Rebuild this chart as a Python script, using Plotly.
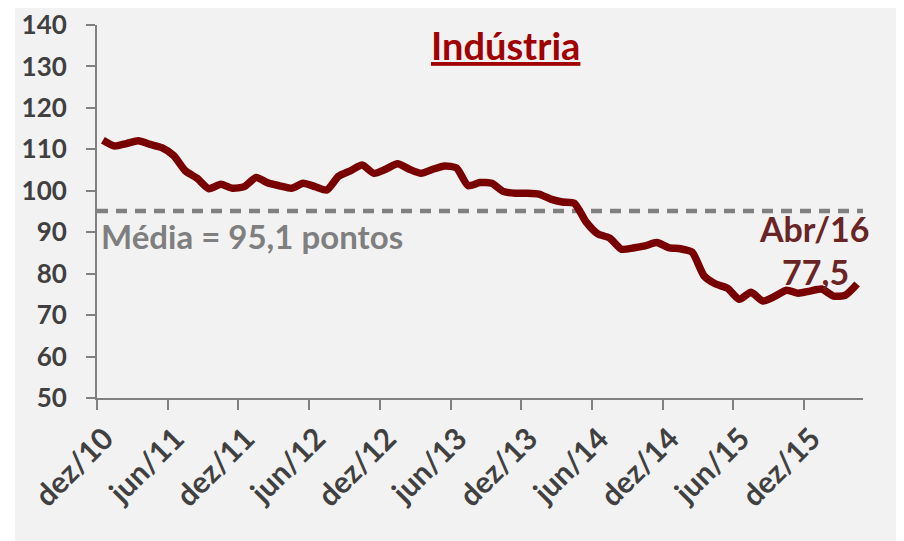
import plotly.graph_objects as go

# Monthly values, dez/10 .. abr/16
values = [112.2, 110.8, 111.4, 112.1, 111.2, 110.4, 108.5, 104.8, 103.0, 100.5,
          101.6, 100.6, 101.0, 103.2, 101.9, 101.2, 100.6, 101.8, 101.0, 100.2,
          103.5, 104.8, 106.2, 104.2, 105.2, 106.5, 105.2, 104.2, 105.2, 106.0,
          105.5, 101.2, 102.0, 101.8, 99.8, 99.4, 99.4, 99.2, 98.0, 97.3,
          97.0, 92.5, 89.6, 88.6, 85.9, 86.2, 86.7, 87.5, 86.3, 86.0,
          85.2, 79.5, 77.5, 76.5, 73.8, 75.5, 73.4, 74.5, 76.0, 75.3,
          75.8, 76.3, 74.6, 74.8, 77.5]
tick_labels = ["dez/10", "jun/11", "dez/11", "jun/12", "dez/12", "jun/13",
               "dez/13", "jun/14", "dez/14", "jun/15", "dez/15"]
mean_value = 95.1
mean_label = "Média = 95,1 pontos"
title_text = "Indústria"
last_label = "Abr/16"
last_value_label = "77,5"

n = len(values)
x = [i + 0.5 for i in range(n)]
tick_positions = [6 * k for k in range(len(tick_labels))]
label_positions = [p + 0.65 for p in tick_positions]

W, H = 896, 533
L, R, T, B = 89, 41, 17, 143
pw, ph = W - L - R, H - T - B

font_family = "Lato, 'Open Sans', sans-serif"
fig = go.Figure()
fig.add_trace(go.Scatter(x=[0, n], y=[mean_value, mean_value], mode="lines",
                         line=dict(color="#808080", width=4.5, dash="11px,8px"),
                         hoverinfo="skip", showlegend=False))
fig.add_trace(go.Scatter(x=x, y=values, mode="lines",
                         line=dict(color="#780000", width=7.5, shape="spline", smoothing=0.6),
                         showlegend=False))

fig.add_annotation(x=0.2, y=mean_value, xref="x", yref="y", text=mean_label,
                   showarrow=False, xanchor="left", yanchor="top", yshift=-3,
                   font=dict(family=font_family, size=33, color="#7f7f7f", weight="bold"))
fig.add_annotation(x=(506 - 8 - L) / pw, y=1 - (45 - 8 - T) / ph, xref="paper", yref="paper",
                   text="<u>" + title_text + "</u>",
                   showarrow=False, xanchor="center", yanchor="middle",
                   font=dict(family=font_family, size=38, color="#a00000", weight="bold"))
fig.add_annotation(x=60.8, y=90.9, xref="x", yref="y", text=last_label,
                   showarrow=False, xanchor="center", yanchor="middle",
                   font=dict(family=font_family, size=34, color="#6a2424", weight="bold"))
fig.add_annotation(x=60.95, y=80.5, xref="x", yref="y", text=last_value_label,
                   showarrow=False, xanchor="center", yanchor="middle",
                   font=dict(family=font_family, size=34, color="#6a2424", weight="bold"))

fig.update_layout(
    width=W, height=H,
    margin=dict(l=L, r=R, t=T, b=B, autoexpand=False),
    paper_bgcolor="white", plot_bgcolor="#f2f2f2",
    font=dict(family=font_family),
    xaxis=dict(range=[0, n], tickmode="array", tickvals=label_positions, ticktext=tick_labels,
               tickangle=-45, showgrid=False, zeroline=False, showline=True,
               linecolor="#808080", linewidth=2, ticks="outside", ticklen=9,
               tickcolor="rgba(0,0,0,0)", tickwidth=2,
               tickfont=dict(size=30, color="#404040", weight="bold"),
               minor=dict(tickmode="array", tickvals=tick_positions, ticks="outside",
                          ticklen=10, tickcolor="#808080", tickwidth=2, showgrid=False)),
    yaxis=dict(range=[50, 140], tickmode="array", tickvals=list(range(50, 141, 10)),
               showgrid=False, zeroline=False, showline=True, linecolor="#808080",
               linewidth=2, ticks="outside", ticklen=9, tickcolor="#808080", tickwidth=2,
               ticklabelstandoff=14,
               tickfont=dict(size=26, color="#404040", weight="bold")),
    shapes=[
        dict(type="rect", xref="paper", yref="paper",
             x0=(7 - L) / pw, x1=(W - L) / pw + 0.02,
             y0=-B / ph - 0.01, y1=1 + T / ph + 0.01,
             fillcolor="#f2f2f2", line=dict(width=0), layer="below"),
    ],
)
fig.write_html("out.html")
